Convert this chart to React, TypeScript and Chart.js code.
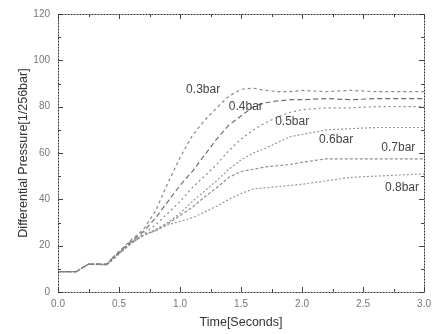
import React, { useEffect, useRef } from "react";
import { Chart, registerables } from "chart.js";

Chart.register(...registerables);

// Shared time base (seconds)
const time = [0, 0.15, 0.2, 0.25, 0.4, 0.45, 0.5, 0.6, 0.7, 0.8, 0.9, 1.0, 1.1, 1.2, 1.3, 1.4, 1.5, 1.6, 1.7, 1.8, 1.9, 2.0, 2.2, 2.4, 2.6, 2.8, 3.0];

// Differential pressure [1/256 bar] for each supply pressure
const p03 = [8.8, 8.8, 10.5, 12, 12, 15, 17.5, 22.5, 27, 35, 47, 58, 67.5, 74, 79.5, 84.5, 87.5, 88, 87, 86.5, 86.5, 87, 86.5, 87, 86.5, 86.5, 86.5];
const p04 = [8.8, 8.8, 10.5, 12, 12, 14.8, 17.2, 22, 26, 32, 39, 46, 52, 59, 66, 72, 76, 80, 81.7, 82.5, 83, 83, 83.5, 83, 83.5, 83.5, 83.5];
const p05 = [8.8, 8.8, 10.5, 12, 12, 14.5, 17, 21.5, 25, 29, 34, 39, 45, 50, 55, 61, 66, 70, 73, 75.5, 77.5, 78.7, 79.5, 79.5, 80, 80, 80];
const p06 = [8.8, 8.8, 10.5, 12, 11.8, 14.3, 16.8, 21.5, 24.5, 27, 30, 34, 39, 43.5, 48, 53, 57, 60, 62, 64.5, 67, 68, 70, 70.5, 71, 71, 71];
const p07 = [8.8, 8.8, 10.5, 12, 11.8, 14, 16.5, 21, 24.5, 26.5, 29.5, 33, 36.5, 41, 45, 49.5, 52, 53, 54, 54.5, 55, 56, 57.5, 57.5, 57.5, 57.5, 57.5];
const p08 = [8.8, 8.8, 10.5, 12, 11.7, 14, 16.5, 21, 24.5, 26.5, 29, 30.5, 32, 34.5, 37, 40, 42.5, 44.5, 45, 45.5, 46, 46.5, 48, 49.5, 50, 50.5, 51];

const seriesNames = ["0.3bar", "0.4bar", "0.5bar", "0.6bar", "0.7bar", "0.8bar"];
const seriesValues = [p03, p04, p05, p06, p07, p08];
const seriesColors = ["#8a8a8a", "#6f6f6f", "#8a8a8a", "#999999", "#8f8f8f", "#999999"];
const seriesDashes = [[3, 3], [5, 3], [2, 3], [2, 2], [3, 2], [2, 2]];

// Curve label anchors, in data units (time, pressure)
const labelTime = [1.05, 1.40, 1.78, 2.14, 2.65, 2.68];
const labelValue = [87.4, 80, 73.5, 65.7, 62.3, 45];

const xMin = 0;
const xMax = 3.0;
const xStep = 0.5;
const yMin = 0;
const yMax = 120;
const yStep = 20;

const framePlugin = {
  id: "framePlugin",
  afterDatasetsDraw(chart: any) {
    const { ctx, chartArea, scales } = chart;
    const { left, right, top, bottom } = chartArea;
    ctx.save();
    // inner tick marks
    ctx.strokeStyle = "#444";
    ctx.lineWidth = 1;
    ctx.setLineDash([]);
    for (let v = xMin; v <= xMax + 1e-9; v += xStep / 2) {
      const px = Math.round(scales.x.getPixelForValue(v)) + 0.5;
      const len = Math.abs((v / xStep) - Math.round(v / xStep)) < 1e-6 ? 5 : 3;
      ctx.beginPath();
      ctx.moveTo(px, bottom);
      ctx.lineTo(px, bottom - len);
      ctx.moveTo(px, top);
      ctx.lineTo(px, top + len);
      ctx.stroke();
    }
    for (let v = yMin; v <= yMax + 1e-9; v += yStep / 2) {
      const py = Math.round(scales.y.getPixelForValue(v)) + 0.5;
      const len = Math.abs((v / yStep) - Math.round(v / yStep)) < 1e-6 ? 5 : 3;
      ctx.beginPath();
      ctx.moveTo(left, py);
      ctx.lineTo(left + len, py);
      ctx.moveTo(right, py);
      ctx.lineTo(right - len, py);
      ctx.stroke();
    }
    // frame
    ctx.strokeStyle = "#333";
    ctx.setLineDash([2, 1]);
    ctx.strokeRect(Math.round(left) + 0.5, Math.round(top) + 0.5, Math.round(right - left), Math.round(bottom - top));
    ctx.setLineDash([]);
    // curve labels
    ctx.fillStyle = "#444";
    ctx.font = "12px 'Liberation Sans', Arial, sans-serif";
    ctx.textBaseline = "middle";
    ctx.textAlign = "left";
    seriesNames.forEach((name, i) => {
      const px = scales.x.getPixelForValue(labelTime[i]);
      const py = scales.y.getPixelForValue(labelValue[i]);
      ctx.fillText(name, px, py);
    });
    ctx.restore();
  },
};

export default function App() {
  const canvasRef = useRef<HTMLCanvasElement | null>(null);

  useEffect(() => {
    if (!canvasRef.current) return;
    Chart.defaults.font.family = "'Liberation Sans', Arial, sans-serif";
    const datasets = seriesNames.map((name, i) => ({
      label: name,
      data: time.map((t, j) => ({ x: t, y: seriesValues[i][j] })),
      borderColor: seriesColors[i],
      borderWidth: 1.2,
      borderDash: seriesDashes[i],
      pointRadius: 0,
      tension: 0,
      fill: false,
    }));
    const chart = new Chart(canvasRef.current, {
      type: "line",
      data: { datasets },
      options: {
        animation: false,
        responsive: false,
        maintainAspectRatio: false,
        layout: { padding: { left: 0, right: 7, top: 14, bottom: 0 } },
        plugins: { legend: { display: false }, tooltip: { enabled: false } },
        scales: {
          x: {
            type: "linear",
            min: xMin,
            max: xMax,
            grid: { display: false, drawTicks: false },
            border: { display: false },
            ticks: {
              stepSize: xStep,
              padding: 6,
              color: "#777",
              font: { size: 10 },
              maxRotation: 0,
              callback: (v: any) => Number(v).toFixed(1),
            },
            title: {
              display: true,
              text: "Time[Seconds]",
              color: "#333",
              font: { size: 12.5 },
              padding: { top: 4, bottom: 4 },
            },
            afterFit: (scale: any) => {
              scale.height = 42;
            },
          },
          y: {
            type: "linear",
            min: yMin,
            max: yMax,
            grid: { display: false, drawTicks: false },
            border: { display: false },
            ticks: {
              stepSize: yStep,
              padding: 8,
              color: "#777",
              font: { size: 10 },
            },
            title: {
              display: true,
              text: "Differential Pressure[1/256bar]",
              color: "#333",
              font: { size: 12.5 },
              padding: { top: 16, bottom: 4 },
            },
            afterFit: (scale: any) => {
              scale.width = 58;
            },
          },
        },
      },
      plugins: [framePlugin],
    });
    return () => chart.destroy();
  }, []);

  return (
    <div style={{ position: "absolute", left: 0, top: 0, width: 437, height: 334, background: "#fff" }}>
      <canvas ref={canvasRef} width={437} height={334} />
    </div>
  );
}
